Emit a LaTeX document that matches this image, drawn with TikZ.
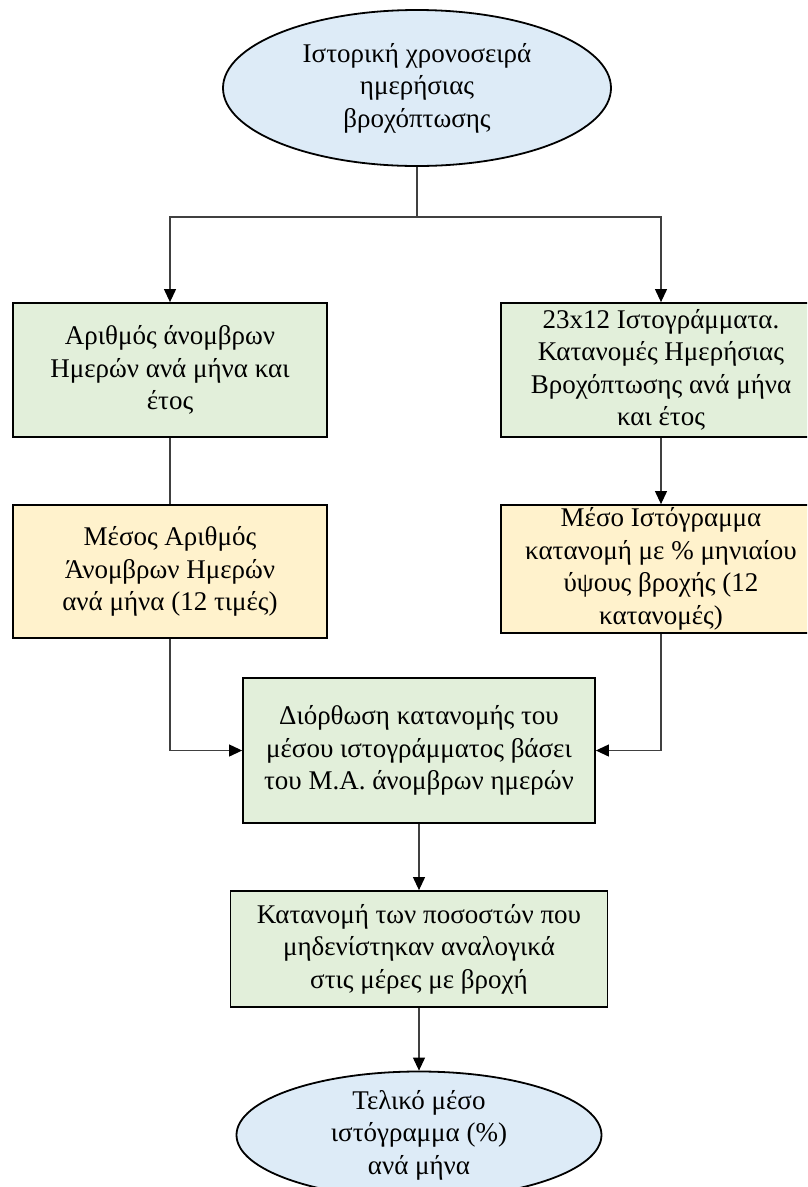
\documentclass[tikz,border=0pt]{standalone}
\usepackage{fontspec}
\setmainfont{Liberation Serif}
\usetikzlibrary{shapes.geometric,arrows.meta}
\definecolor{boxgreen}{HTML}{E2EFDA}
\definecolor{boxyellow}{HTML}{FFF2CC}
\definecolor{boxblue}{HTML}{DDEBF7}
\definecolor{linegray}{HTML}{404040}
\tikzset{
  base/.style={draw=black, line width=1.8pt, align=center, inner sep=0pt,
    font=\fontsize{27}{32.5}\selectfont},
  greenbox/.style={base, rectangle, fill=boxgreen},
  yellowbox/.style={base, rectangle, fill=boxyellow},
  ovalbox/.style={base, ellipse, fill=boxblue},
  conn/.style={draw=linegray, line width=1.1pt},
  arr/.style={conn, -{Triangle[length=13pt,width=12pt,color=black]}},
}
\begin{document}
\begin{tikzpicture}[x=1pt,y=-1pt]
\useasboundingbox (0,0) rectangle (807,1187);
\clip (0,0) rectangle (807,1187);
\fill[white] (0,0) rectangle (807,1187);

\node[ovalbox, minimum width=388pt, minimum height=156pt] (top) at (417,88)
  {Ιστορική χρονοσειρά\\ημερήσιας\\βροχόπτωσης};

\node[greenbox, minimum width=314pt, minimum height=134pt] (lg) at (170,370)
  {Αριθμός άνομβρων\\Ημερών ανά μήνα και\\έτος};
\node[greenbox, minimum width=320pt, minimum height=134pt] (rg) at (661,370)
  {23x12 Ιστογράμματα.\\Κατανομές Ημερήσιας\\Βροχόπτωσης ανά μήνα\\και έτος};

\node[yellowbox, minimum width=314pt, minimum height=133pt] (ly) at (170,571.5)
  {Μέσος Αριθμός\\Άνομβρων Ημερών\\ανά μήνα (12 τιμές)};
\node[yellowbox, minimum width=320pt, minimum height=128pt] (ry) at (661,569)
  {Μέσο Ιστόγραμμα\\κατανομή με \% μηνιαίου\\ύψους βροχής (12\\κατανομές)};

\node[greenbox, minimum width=352pt, minimum height=145pt] (mid) at (419,750.5)
  {Διόρθωση κατανομής του\\μέσου ιστογράμματος βάσει\\του Μ.Α. άνομβρων ημερών};

\node[greenbox, minimum width=377pt, minimum height=116pt] (dist) at (419,949)
  {Κατανομή των ποσοστών που\\μηδενίστηκαν αναλογικά\\στις μέρες με βροχή};

\node[ovalbox, minimum width=365pt, minimum height=124pt] (fin) at (419,1135)
  {Τελικό μέσο\\ιστόγραμμα (\%)\\ανά μήνα};

\coordinate (split) at (417,217);
\draw[conn] (top.south) -- (split);
\draw[arr] (split) -| (lg.north);
\draw[arr] (split) -| (rg.north);
\draw[conn] (lg.south) -- (ly.north);
\draw[arr] (rg.south) -- (ry.north);
\draw[arr] (ly.south) |- (mid.west);
\draw[arr] (ry.south) |- (mid.east);
\draw[arr] (mid.south) -- (dist.north);
\draw[arr] (dist.south) -- (fin.north);
\end{tikzpicture}
\end{document}
